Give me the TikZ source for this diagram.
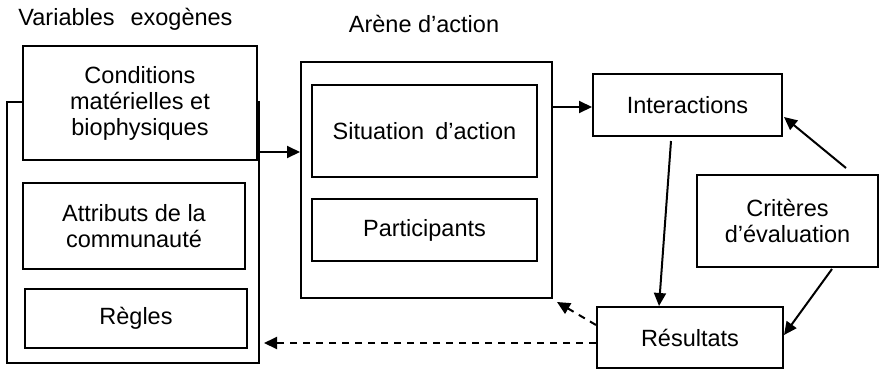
\documentclass[tikz,border=0pt]{standalone}
\usepackage{fontspec}
\setmainfont{Liberation Sans}
\usetikzlibrary{arrows.meta,calc}
\begin{document}
\begin{tikzpicture}[x=1pt,y=-1pt,
  box/.style={draw, line width=2pt, fill=white, align=center, inner sep=0pt},
  arr/.style={line width=2pt, -{Triangle[length=13pt,width=12pt]}},
  dsh/.style={arr, dash pattern=on 7pt off 6pt},
  lbl/.style={anchor=base, inner sep=0pt},
  font=\fontsize{23.5}{26}\selectfont]
\useasboundingbox (0,0) rectangle (880,375);
% titles
\node[lbl] (tvar) at (125.5,25) {Variables\hspace{0.4em} exogènes};
\node[lbl] (tare) at (424,32) {Arène d’action};
% exogenous variables
\node[box, minimum width=252pt, minimum height=261pt] (exo) at (133,232.5) {};
\node[box, minimum width=234pt, minimum height=114pt] (cond) at (140,103) {Conditions\\matérielles et\\biophysiques};
\node[box, minimum width=222pt, minimum height=86pt] (attr) at (134,226) {Attributs de la\\communauté};
\node[box, minimum width=222pt, minimum height=59pt] (regl) at (136,318.5) {Règles};
% action arena
\node[box, minimum width=251pt, minimum height=236pt] (arene) at (426.5,180) {};
\node[box, minimum width=225pt, minimum height=92pt] (sit) at (424.5,131) {Situation\hspace{0.2em} d’action};
\node[box, minimum width=225pt, minimum height=62pt] (part) at (424.5,230) {Participants};
% right side
\node[box, minimum width=189pt, minimum height=62pt] (inter) at (687.5,105) {Interactions};
\node[box, minimum width=181pt, minimum height=92pt] (crit) at (787.5,221) {Critères\\d’évaluation};
\node[box, minimum width=186pt, minimum height=61pt] (res) at (690,337.5) {Résultats};
% helper coordinates
\coordinate (ya) at (0,152);
\coordinate (yb) at (0,107);
\coordinate (yc) at (0,343);
% connectors
\draw[arr] (exo.east |- ya) -- (arene.west |- ya);
\draw[arr] (arene.east |- yb) -- (inter.west |- yb);
\draw[arr] ($(inter.south)+(-16.5,4)$) -- ($(res.north)+(-31,0)$);
\draw[arr] ($(crit.north)+(58.5,-6)$) -- ($(inter.east)+(1,12)$);
\draw[arr] ($(crit.south)+(44.5,1)$) -- ($(res.east)+(0,-2.5)$);
\draw[dsh] ($(res.west)+(0,-12.5)$) -- ($(arene.south east)+(4,3)$);
\draw[dsh] (res.west |- yc) -- ($(exo.east |- yc)+(4,0)$);
\end{tikzpicture}
\end{document}
